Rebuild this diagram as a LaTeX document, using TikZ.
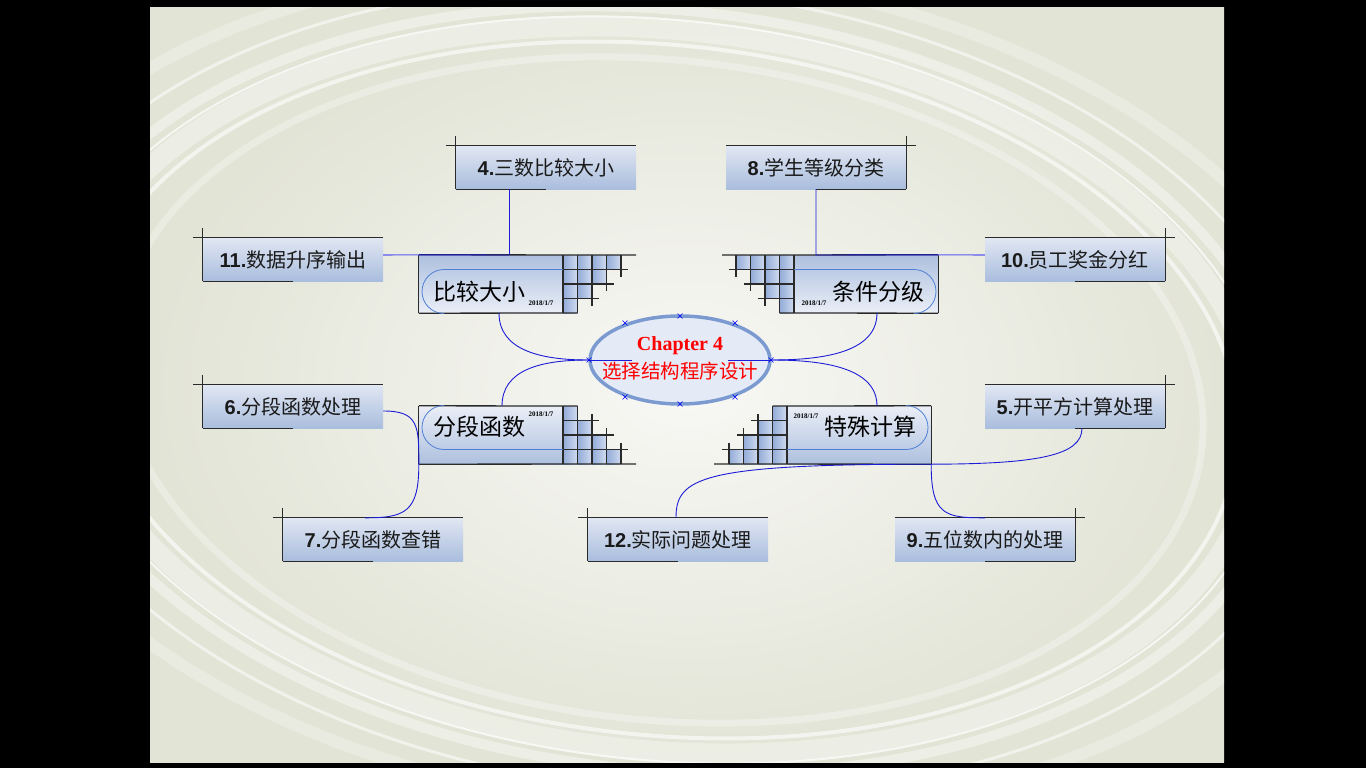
\documentclass[tikz,border=0pt]{standalone}
\usepackage{fontspec}
\setmainfont{Liberation Sans}
\newfontfamily\cjk{Noto Sans CJK SC}
\newfontfamily\tms{Liberation Serif}
\usetikzlibrary{shapes.geometric}
\definecolor{dk}{HTML}{2A2A2A}
\definecolor{cn}{HTML}{1C1CD8}
\definecolor{cnl}{HTML}{5A5AF0}
\definecolor{lt}{HTML}{E1E7F3}
\definecolor{bl}{HTML}{A9BDDD}
\definecolor{cella}{HTML}{92ABD8}
\definecolor{cellb}{HTML}{D0DBEF}
\definecolor{pillc}{HTML}{4F7FD6}
\definecolor{ellf}{HTML}{E4EAF6}
\definecolor{elld}{HTML}{7B9BD0}
\definecolor{txt}{HTML}{1A1A1A}
\definecolor{bgin}{HTML}{F8F8F5}
\definecolor{bgout}{HTML}{E2E4D6}
\tikzset{
  leaf/.style={minimum width=180pt,minimum height=43pt,inner sep=0pt,top color=lt,bottom color=bl,
    text=txt,font=\fontsize{20}{23}\selectfont},
  topicup/.style={minimum width=144pt,minimum height=58pt,inner sep=0pt,top color=bl!95!white,bottom color=lt!70!white},
  topicdn/.style={minimum width=144pt,minimum height=58pt,inner sep=0pt,top color=lt!70!white,bottom color=bl!95!white},
  ttext/.style={text=black,font=\cjk\fontsize{23}{26}\selectfont,inner sep=0pt},
  dtext/.style={text=black,font=\tms\bfseries\fontsize{7}{8}\selectfont,inner sep=0pt},
  dline/.style={draw=dk,line width=1.3pt},
  conn/.style={draw=cn,line width=0.9pt},
  connl/.style={draw=cnl,line width=1.1pt},
  pill/.style={draw=pillc,line width=0.8pt},
  cell/.style={left color=cella,right color=cellb},
  xm/.style={draw=blue,line width=0.6pt},
}
\newcommand{\lf}[2]{\textbf{#1}{\cjk #2}}
\begin{document}
\begin{tikzpicture}[x=1pt,y=-1pt]
\useasboundingbox (0,0) rectangle (1366,768);
\fill[black] (0,0) rectangle (1366,768);
\begin{scope}
  \clip (150,8) rectangle (1224,762);
  \shade[inner color=bgin,outer color=bgout] (150,8) rectangle (1224,762);
  \foreach \rx/\ry/\w/\o in {600/360/20/0.35, 580/345/4/0.6, 630/380/10/0.4, 660/400/3/0.55, 545/330/7/0.3, 700/420/12/0.25, 615/370/2/0.7}
    \draw[white,line width=\w pt,opacity=\o,rotate around={-6:(660,390)}] (660,390) ellipse[x radius=\rx,y radius=\ry];
\end{scope}

% ---------- leaves ----------
\node[leaf] (n4)  at (546,167.5) {\lf{4.}{三数比较大小}};
\node[leaf] (n8)  at (816,167.5) {\lf{8.}{学生等级分类}};
\node[leaf] (n11) at (293,259.5) {\lf{11.}{数据升序输出}};
\node[leaf] (n10) at (1075,259.5) {\lf{10.}{员工奖金分红}};
\node[leaf] (n6)  at (293,406.5) {\lf{6.}{分段函数处理}};
\node[leaf] (n5)  at (1075,406.5) {\lf{5.}{开平方计算处理}};
\node[leaf] (n7)  at (373,539.5) {\lf{7.}{分段函数查错}};
\node[leaf] (n12) at (678,539.5) {\lf{12.}{实际问题处理}};
\node[leaf] (n9)  at (985,539.5) {\lf{9.}{五位数内的处理}};
% left-style decorations
\foreach \n in {n4,n11,n6,n7,n12}{
  \draw[dline] ([xshift=-10pt]\n.north west) -- (\n.north east);
  \draw[dline] ([yshift=10pt]\n.north west) -- (\n.south west);
  \draw[dline] (\n.south west) -- (\n.south);
}
% right-style decorations
\foreach \n in {n8,n10,n5,n9}{
  \draw[dline] (\n.north west) -- ([xshift=10pt]\n.north east);
  \draw[dline] ([yshift=10pt]\n.north east) -- (\n.south east);
  \draw[dline] (\n.south) -- (\n.south east);
}

% ---------- topic boxes ----------
\def\s{14.5}
% t1 : 比较大小
\node[topicup] (t1) at (491,284) {};
\foreach \i in {0,...,3}{\pgfmathtruncatemacro{\m}{3-\i}
  \foreach \j in {0,...,\m}{\shade[cell] (563+\j*\s,255+\i*\s) rectangle ++(\s,\s);}}
\draw[dline] (t1.north west) -- (636,255);
\draw[dline] (t1.south west) -- (577.5,313);
\draw[dline] (t1.north west) -- (t1.south west);
\foreach \i in {1,2,3} \draw[dline] (563,255+\i*\s) -- (563+5*\s-\i*\s+7,255+\i*\s);
\draw[dline] (563,255) -- (563,313);
\draw[dline] (577.5,255) -- (577.5,313);
\foreach \j in {2,3,4} \draw[dline] (563+\j*\s,255) -- (563+\j*\s,255+5*\s-\j*\s+7);
\draw[pill] (563,269.5) -- (444,269.5) arc[start angle=90,end angle=270,radius=22pt];
\node[ttext] (t1a) at (479,292) {比较大小};
\node[dtext] (t1d) at (541,303) {2018/1/7};

% t2 : 条件分级
\node[topicup] (t2) at (866,284) {};
\foreach \i in {0,...,3}{\pgfmathtruncatemacro{\m}{3-\i}
  \foreach \j in {0,...,\m}{\shade[cell] (794-\j*\s-\s,255+\i*\s) rectangle ++(\s,\s);}}
\draw[dline] (t2.north east) -- (722,255);
\draw[dline] (t2.south east) -- (779.5,313);
\draw[dline] (t2.north east) -- (t2.south east);
\foreach \i in {1,2,3} \draw[dline] (794,255+\i*\s) -- (794-5*\s+\i*\s-7,255+\i*\s);
\draw[dline] (794,255) -- (794,313);
\draw[dline] (779.5,255) -- (779.5,313);
\foreach \j in {2,3,4} \draw[dline] (794-\j*\s,255) -- (794-\j*\s,255+5*\s-\j*\s+7);
\draw[pill] (794,269.5) -- (914,269.5) arc[start angle=90,end angle=-90,radius=22pt];
\node[ttext] (t2a) at (878,292) {条件分级};
\node[dtext] (t2d) at (814,303) {2018/1/7};

% t3 : 分段函数
\node[topicdn] (t3) at (491,435) {};
\foreach \k in {0,...,3}{\pgfmathtruncatemacro{\m}{3-\k}
  \foreach \j in {0,...,\m}{\shade[cell] (563+\j*\s,464-\k*\s-\s) rectangle ++(\s,\s);}}
\draw[dline] (t3.south west) -- (636,464);
\draw[dline] (t3.north west) -- (577.5,406);
\draw[dline] (t3.north west) -- (t3.south west);
\foreach \k in {1,2,3} \draw[dline] (563,464-\k*\s) -- (563+5*\s-\k*\s+7,464-\k*\s);
\draw[dline] (563,406) -- (563,464);
\draw[dline] (577.5,406) -- (577.5,464);
\foreach \j in {2,3,4} \draw[dline] (563+\j*\s,464) -- (563+\j*\s,464-5*\s+\j*\s-7);
\draw[pill] (563,449.5) -- (444,449.5) arc[start angle=270,end angle=90,radius=22pt];
\node[ttext] (t3a) at (479,427) {分段函数};
\node[dtext] (t3d) at (541,414) {2018/1/7};

% t4 : 特殊计算
\node[topicdn] (t4) at (859,435) {};
\foreach \k in {0,...,3}{\pgfmathtruncatemacro{\m}{3-\k}
  \foreach \j in {0,...,\m}{\shade[cell] (787-\j*\s-\s,464-\k*\s-\s) rectangle ++(\s,\s);}}
\draw[dline] (t4.south east) -- (714,464);
\draw[dline] (t4.north east) -- (772.5,406);
\draw[dline] (t4.north east) -- (t4.south east);
\foreach \k in {1,2,3} \draw[dline] (787,464-\k*\s) -- (787-5*\s+\k*\s-7,464-\k*\s);
\draw[dline] (787,406) -- (787,464);
\draw[dline] (772.5,406) -- (772.5,464);
\foreach \j in {2,3,4} \draw[dline] (787-\j*\s,464) -- (787-\j*\s,464-5*\s+\j*\s-7);
\draw[pill] (787,449.5) -- (906,449.5) arc[start angle=-90,end angle=90,radius=22pt];
\node[ttext] (t4a) at (870,427) {特殊计算};
\node[dtext] (t4d) at (806,416) {2018/1/7};

% ---------- centre ----------
\node[ellipse,draw=elld,fill=ellf,line width=3.5pt,minimum width=180pt,minimum height=88pt,inner sep=0pt] (ctr) at (680,360) {};
\node[inner sep=0pt,text=red,font=\tms\bfseries\fontsize{20}{22}\selectfont] (ch) at (680,346) {Chapter 4};
\node[inner sep=0pt,text=red,font=\cjk\fontsize{19.5}{22}\selectfont] (cht) at (680,371) {选择结构程序设计};

% ---------- connectors ----------
\coordinate (c1) at (509,255);
\coordinate (c2) at (816,255);
\coordinate (b1) at (499,313);
\coordinate (b2) at (877,313);
\coordinate (b3) at (502,406);
\coordinate (b4) at (877,406);
\draw[conn] (n4.south -| c1) -- (c1);
\draw[connl] (n11.east |- c1) -- (t1.north west);
\draw[conn] (t1.north west) -- (c1);
\draw[conn] (n8.south -| c2) -- (c2) -- (t2.north east);
\draw[connl] (t2.north east) -- (n10.west |- c2);
\draw[conn] (ctr.west) .. controls (540,360) and (499,350) .. (b1);
\draw[conn] (ctr.west) .. controls (540,360) and (502,370) .. (b3);
\draw[conn] (ctr.east) .. controls (830,360) and (877,350) .. (b2);
\draw[conn] (ctr.east) .. controls (830,360) and (877,370) .. (b4);
\draw[conn] (ctr.west) -- ([xshift=44pt]ctr.west);
\draw[conn] (ctr.east) -- ([xshift=-44pt]ctr.east);
\draw[conn] ([yshift=-4.5pt]n6.east) .. controls (418,411) and (419,425) .. (t3.south west);
\draw[conn] (t3.south west) .. controls (419,512) and (405,518) .. ([xshift=-8pt]n7.north);
\draw[conn] (t4.south east) .. controls (1040,464) and (1082,455) .. ([xshift=7pt]n5.south);
\draw[conn] (t4.south east) .. controls (700,464) and (676,478) .. ([xshift=-2pt]n12.north);
\draw[conn] (t4.south east) .. controls (931,515) and (945,518) .. (n9.north);
% markers on the ellipse
\foreach \px/\py in {680/316,680/404,589/360,771/360,625/323,735/323,625/397,735/397}
  \draw[xm] (\px-2.5,\py-2.5) -- (\px+2.5,\py+2.5) (\px-2.5,\py+2.5) -- (\px+2.5,\py-2.5);
\end{tikzpicture}
\end{document}
